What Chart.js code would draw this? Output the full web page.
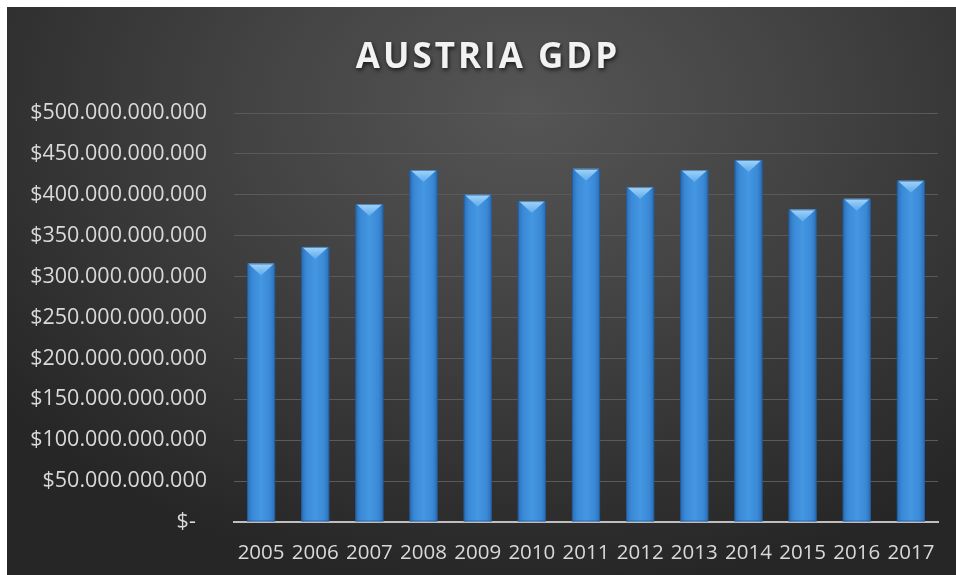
<!DOCTYPE html>
<html>
<head>
<meta charset="utf-8">
<script src="https://cdn.jsdelivr.net/npm/chart.js@4/dist/chart.umd.min.js"></script>
<style>
  html, body { margin: 0; padding: 0; background: #fff; overflow: hidden; }
  #wrap {
    position: fixed; left: 7px; top: 7px; right: 0; bottom: 0; overflow: hidden;
    background: radial-gradient(ellipse 70% 85% at 55% 18%, #555555 0%, #444444 40%, #262626 100%);
  }
  canvas { display: block; }
</style>
</head>
<body>
<div id="wrap"><canvas id="myChart" width="949" height="568"></canvas></div>
<script>
var titleText = 'AUSTRIA GDP';
var years = ['2005', '2006', '2007', '2008', '2009', '2010', '2011', '2012', '2013', '2014', '2015', '2016', '2017'];
var gdp = [316.0e9, 336.3e9, 388.7e9, 430.3e9, 400.2e9, 392.3e9, 431.7e9, 409.4e9, 430.2e9, 442.6e9, 382.1e9, 395.2e9, 417.3e9];
var yTicks = { min: 0, max: 500e9, step: 50e9 };

// accounting style: $ with dot separators, zero as "$-"
function money(v) {
  if (v === 0) return '$-  ';
  return '$' + String(Math.round(v)).replace(/\B(?=(\d{3})+(?!\d))/g, '.');
}

// shaded bars with a bevelled top
var bevelBars = {
  id: 'bevelBars',
  afterDatasetsDraw: function(chart) {
    var ctx = chart.ctx;
    chart.getDatasetMeta(0).data.forEach(function(bar) {
      var left = bar.x - bar.width / 2, right = bar.x + bar.width / 2;
      var top = bar.y, bottom = bar.base;
      ctx.save();
      var g = ctx.createLinearGradient(left, 0, right, 0);
      g.addColorStop(0, '#2a6db3');
      g.addColorStop(0.18, '#3a89d6');
      g.addColorStop(0.5, '#4597e2');
      g.addColorStop(0.82, '#3a89d6');
      g.addColorStop(1, '#2a6db3');
      ctx.fillStyle = g;
      ctx.fillRect(left, top, bar.width, bottom - top);
      // top chevron
      var h = 12;
      var tg = ctx.createLinearGradient(0, top, 0, top + h);
      tg.addColorStop(0, '#a3d5f8');
      tg.addColorStop(1, '#5eaaee');
      ctx.beginPath();
      ctx.moveTo(left + 1, top);
      ctx.lineTo(right - 1, top);
      ctx.lineTo(bar.x, top + h);
      ctx.closePath();
      ctx.fillStyle = tg;
      ctx.fill();
      ctx.strokeStyle = 'rgba(30,80,140,0.6)';
      ctx.lineWidth = 1;
      ctx.strokeRect(left + 0.5, top + 0.5, bar.width - 1, bottom - top - 1);
      ctx.restore();
    });
  }
};

// spaced title with a soft shadow
var spacedTitle = {
  id: 'spacedTitle',
  afterDraw: function(chart) {
    var ctx = chart.ctx;
    ctx.save();
    ctx.font = 'bold 35px "Open Sans"';
    ctx.letterSpacing = '3px';
    ctx.textAlign = 'center';
    ctx.textBaseline = 'alphabetic';
    ctx.shadowColor = 'rgba(0,0,0,0.7)';
    ctx.shadowBlur = 4;
    ctx.shadowOffsetX = 1;
    ctx.shadowOffsetY = 2;
    ctx.fillStyle = '#f2f2f2';
    ctx.fillText(titleText, 481, 61);
    ctx.restore();
  }
};

var ctx = document.getElementById('myChart').getContext('2d');
var myChart = new Chart(ctx, {
  type: 'bar',
  data: {
    labels: years,
    datasets: [{
      data: gdp,
      backgroundColor: 'rgba(0,0,0,0)',
      borderWidth: 0,
      barPercentage: 0.52,
      categoryPercentage: 1
    }]
  },
  options: {
    responsive: false,
    animation: false,
    layout: { padding: { top: 106, right: 18, bottom: 0, left: 0 } },
    plugins: {
      legend: { display: false },
      tooltip: { enabled: false }
    },
    scales: {
      x: {
        afterFit: function(scale) { scale.height = 53; },
        grid: { display: false },
        border: { color: '#bfbfbf', width: 2 },
        ticks: { color: '#d9d9d9', padding: 11, maxRotation: 0, font: { family: 'Open Sans', size: 20.5 } }
      },
      y: {
        min: yTicks.min,
        max: yTicks.max,
        afterFit: function(scale) { scale.width = 227; },
        grid: { color: '#5a5a5a', lineWidth: 1, drawTicks: false },
        border: { display: false },
        ticks: {
          stepSize: yTicks.step,
          padding: 27,
          color: '#d9d9d9',
          font: { family: 'Open Sans', size: 21.5 },
          callback: function(v) { return money(v); }
        }
      }
    }
  },
  plugins: [bevelBars, spacedTitle]
});
</script>
</body>
</html>
